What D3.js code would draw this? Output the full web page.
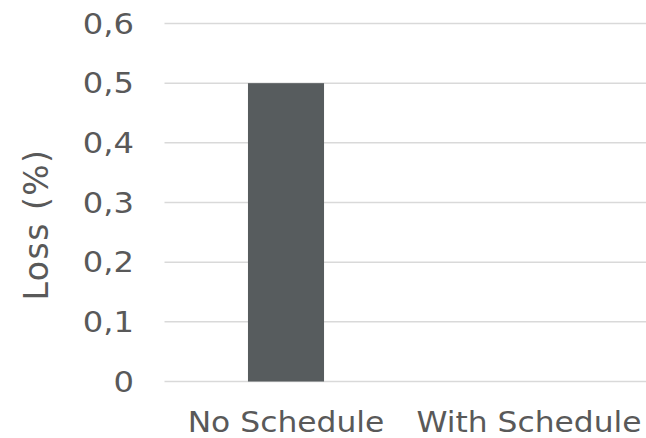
<!DOCTYPE html>
<html>
<head>
<meta charset="utf-8">
<script src="https://cdn.jsdelivr.net/npm/d3@7"></script>
<style>
  html, body { margin: 0; padding: 0; background: #fff; }
  svg { display: block; }
  text { font-family: "DejaVu Sans", Verdana, sans-serif; fill: #595959; }
</style>
</head>
<body>
<svg id="chart" width="646" height="438"></svg>
<script>
// Loss per training setup
const categories = ["No Schedule", "With Schedule"];
const lossValues = [0.5, 0];
const yTicks = [0, 0.1, 0.2, 0.3, 0.4, 0.5, 0.6];
const yTitle = "Loss (%)";

const svg = d3.select("#chart");
const margin = { left: 164.5, right: -4.5, top: 23.5, bottom: 56.5 };
const width = 646, height = 438;

const x = d3.scaleBand()
  .domain(categories)
  .range([margin.left, width - margin.right])
  .paddingInner(0.687)
  .paddingOuter(0.3435);

const y = d3.scaleLinear()
  .domain([0, 0.6])
  .range([height - margin.bottom, margin.top]);

const fmt = d => d === 0 ? "0" : d3.format(".1f")(d).replace(".", ",");

// horizontal gridlines
svg.append("g")
  .selectAll("line")
  .data(yTicks)
  .join("line")
  .attr("x1", margin.left)
  .attr("x2", width - margin.right)
  .attr("y1", d => y(d))
  .attr("y2", d => y(d))
  .attr("stroke", "#d9d9d9")
  .attr("stroke-width", 1.5);

// bars
svg.append("g")
  .selectAll("rect")
  .data(categories.map((c, i) => ({ c, v: lossValues[i] })))
  .join("rect")
  .attr("x", d => x(d.c))
  .attr("width", x.bandwidth())
  .attr("y", d => y(d.v))
  .attr("height", d => y(0) - y(d.v))
  .attr("fill", "#575c5e");

// y tick labels (wide letterforms)
svg.append("g")
  .selectAll("text")
  .data(yTicks)
  .join("text")
  .attr("transform", d => `translate(134,${y(d)}) scale(1.15,1)`)
  .attr("dy", "0.36em")
  .attr("text-anchor", "end")
  .style("font-size", "28px")
  .text(fmt);

// x category labels
svg.append("g")
  .selectAll("text")
  .data(categories)
  .join("text")
  .attr("transform", d => `translate(${x(d) + x.bandwidth() / 2},431.5) scale(1.12,1)`)
  .attr("text-anchor", "middle")
  .style("font-size", "28px")
  .text(d => d);

// y axis title
svg.append("text")
  .attr("transform", "translate(48,224.5) rotate(-90)")
  .attr("text-anchor", "middle")
  .style("font-size", "33px")
  .style("letter-spacing", "1.5px")
  .text(yTitle);
</script>
</body>
</html>
